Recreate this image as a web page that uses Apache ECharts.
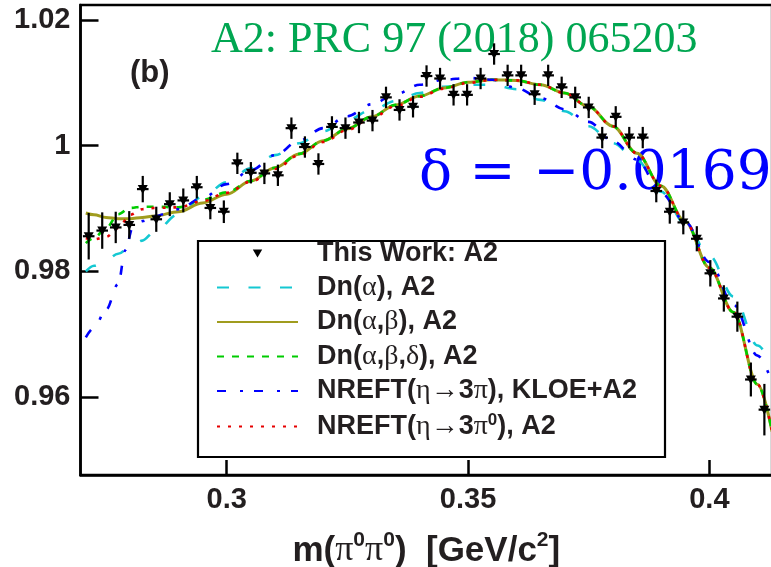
<!DOCTYPE html>
<html>
<head>
<meta charset="utf-8">
<script src="https://cdn.jsdelivr.net/npm/echarts@6/dist/echarts.min.js"></script>
<style>
  html, body { margin: 0; padding: 0; background: #ffffff; }
  #chart { width: 771px; height: 567px; }
</style>
</head>
<body>
<div id="chart"></div>
<script>
// Measured ratio per m(pi0 pi0) bin
const massBins = [0.2714, 0.2742, 0.2770, 0.2798, 0.2826, 0.2854, 0.2882, 0.2910, 0.2938, 0.2966,
  0.2994, 0.3022, 0.3050, 0.3078, 0.3106, 0.3134, 0.3162, 0.3190, 0.3218, 0.3246,
  0.3274, 0.3302, 0.3330, 0.3358, 0.3386, 0.3414, 0.3442, 0.3470, 0.3498, 0.3526,
  0.3554, 0.3582, 0.3610, 0.3638, 0.3666, 0.3694, 0.3722, 0.3750, 0.3778, 0.3806,
  0.3834, 0.3862, 0.3890, 0.3918, 0.3946, 0.3974, 0.4002, 0.4030, 0.4058, 0.4086, 0.4114];
const ratioValues = [0.9856, 0.9865, 0.9870, 0.9874, 0.9931, 0.9883, 0.9907, 0.9913, 0.9934, 0.9901,
  0.9895, 0.9972, 0.9957, 0.9956, 0.9953, 1.0028, 0.9998, 0.9971, 1.0030, 1.0028,
  1.0037, 1.0040, 1.0077, 1.0057, 1.0062, 1.0111, 1.0107, 1.0081, 1.0081, 1.0107,
  1.0146, 1.0112, 1.0112, 1.0082, 1.0112, 1.0093, 1.0077, 1.0061, 1.0013, 1.0046,
  1.0013, 1.0013, 0.9928, 0.9895, 0.9878, 0.9852, 0.9797, 0.9757, 0.9728, 0.9628, 0.9580];
const ratioErrors = [0.0037, 0.0029, 0.0025, 0.0022, 0.0021, 0.0020, 0.0019, 0.0019, 0.0018, 0.0018,
  0.0018, 0.0017, 0.0017, 0.0017, 0.0017, 0.0017, 0.0017, 0.0017, 0.0017, 0.0017,
  0.0017, 0.0017, 0.0017, 0.0017, 0.0017, 0.0017, 0.0017, 0.0017, 0.0017, 0.0017,
  0.0017, 0.0017, 0.0017, 0.0017, 0.0017, 0.0017, 0.0017, 0.0017, 0.0017, 0.0017,
  0.0017, 0.0017, 0.0018, 0.0019, 0.0019, 0.0020, 0.0021, 0.0021, 0.0024, 0.0027, 0.0041];
const massHalfWidth = 0.0012;

// Fit curves, sampled in m(pi0 pi0)
const curveMass = [0.2708, 0.2725, 0.275, 0.2775, 0.280, 0.2825, 0.285, 0.290, 0.295, 0.300,
  0.305, 0.310, 0.315, 0.320, 0.325, 0.330, 0.335, 0.340, 0.345, 0.350,
  0.355, 0.360, 0.365, 0.370, 0.375, 0.380, 0.385, 0.390, 0.395, 0.400,
  0.405, 0.410, 0.413];
const dnAlpha = [0.9800, 0.9809, 0.9818, 0.9828, 0.9839, 0.9849, 0.9863, 0.9891, 0.9919, 0.9942,
  0.9964, 0.9985, 1.0004, 1.0023, 1.0041, 1.0057, 1.0071, 1.0084, 1.0094, 1.0097,
  1.0097, 1.0090, 1.0073, 1.0055, 1.0031, 1.0004, 0.9977, 0.9927, 0.9876, 0.9825,
  0.9760, 0.9682, 0.9650];
const dnAlphaBeta = [0.9893, 0.9890, 0.9886, 0.9884, 0.9884, 0.9886, 0.9888, 0.9895, 0.9909, 0.9923,
  0.9944, 0.9965, 0.9987, 1.0008, 1.0027, 1.0046, 1.0065, 1.0079, 1.0092, 1.0101,
  1.0105, 1.0104, 1.0097, 1.0084, 1.0062, 1.0031, 0.9988, 0.9936, 0.9879, 0.9806,
  0.9735, 0.9620, 0.9545];
const dnAlphaBetaDelta = [0.9845, 0.9853, 0.9869, 0.9891, 0.9901, 0.9903, 0.9903, 0.9902, 0.9914, 0.9926,
  0.9944, 0.9965, 0.9987, 1.0008, 1.0027, 1.0046, 1.0065, 1.0079, 1.0092, 1.0101,
  1.0105, 1.0104, 1.0097, 1.0084, 1.0062, 1.0031, 0.9988, 0.9936, 0.9879, 0.9806,
  0.9735, 0.9620, 0.9545];
const nreftNeutral = [0.9853, 0.9851, 0.9855, 0.9869, 0.9890, 0.9899, 0.9901, 0.9902, 0.9912, 0.9925,
  0.9943, 0.9963, 0.9985, 1.0006, 1.0025, 1.0044, 1.0063, 1.0078, 1.0091, 1.0100,
  1.0105, 1.0104, 1.0097, 1.0084, 1.0062, 1.0031, 0.9988, 0.9936, 0.9879, 0.9806,
  0.9735, 0.9620, 0.9545];
const kloeMass = [0.2708, 0.2725, 0.275, 0.2775, 0.279, 0.2805, 0.2825, 0.285, 0.290, 0.295,
  0.300, 0.305, 0.310, 0.315, 0.320, 0.325, 0.330, 0.335, 0.340, 0.345,
  0.350, 0.355, 0.360, 0.365, 0.370, 0.375, 0.380, 0.385, 0.390, 0.395,
  0.400, 0.405, 0.410, 0.413];
const nreftKloe = [0.9695, 0.9710, 0.9739, 0.9780, 0.9834, 0.9869, 0.9880, 0.9888, 0.9899, 0.9917,
  0.9939, 0.9961, 0.9985, 1.0008, 1.0028, 1.0047, 1.0066, 1.0082, 1.0097, 1.0105,
  1.0108, 1.0105, 1.0092, 1.0076, 1.0058, 1.0038, 1.0007, 0.9978, 0.9925, 0.9879,
  0.9815, 0.9747, 0.9666, 0.9623];

const xTicks = [0.3, 0.35, 0.4];
const xTickLabels = ['0.3', '0.35', '0.4'];
const yTicks = [0.96, 0.98, 1, 1.02];
const yTickLabels = ['0.96', '0.98', '1', '1.02'];

const seriesNames = ['This Work: A2', 'Dn(α), A2', 'Dn(α,β), A2', 'Dn(α,β,δ), A2',
  'NREFT(η→3π), KLOE+A2', 'NREFT(η→3π^0), A2'];

// Split a label into rich-text runs: Greek letters and arrows in a serif face,
// '^x' as a superscript, everything else in bold sans.
function toRich(text) {
  const runs = [];
  for (let i = 0; i < text.length; i++) {
    let ch = text[i];
    let cls = 'b';
    if (ch === '^') { cls = 's'; ch = text[++i]; }
    else if ('αβδηπ→'.indexOf(ch) >= 0) cls = 'g';
    if (runs.length && runs[runs.length - 1].cls === cls && cls !== 's') runs[runs.length - 1].t += ch;
    else runs.push({ cls, t: ch });
  }
  return runs.map(r => '{' + r.cls + '|' + r.t + '}').join('');
}

const pairs = (xs, ys) => xs.map((x, i) => [x, ys[i]]);
const labelOf = (ticks, labels) => v => {
  const k = ticks.findIndex(t => Math.abs(t - v) < 1e-9);
  return k >= 0 ? labels[k] : '';
};

const sans = 'Liberation Sans';
const ink = '#231f20';

const chart = echarts.init(document.getElementById('chart'), null, { renderer: 'canvas' });

const curveSeries = (name, xs, ys, color, type, width) => ({
  name, type: 'line', data: pairs(xs, ys), symbol: 'none', smooth: 0.35, smoothMonotone: 'x',
  lineStyle: { color, type, width }, itemStyle: { color }, z: 3, silent: true
});

chart.setOption({
  animation: false,
  backgroundColor: '#ffffff',
  grid: {
    left: 80.5, top: 5, right: -1.1, bottom: 92,
    show: true, borderColor: '#000', borderWidth: 2.5, backgroundColor: 'transparent',
    containLabel: false, outerBoundsMode: 'none'
  },
  xAxis: {
    type: 'value', min: 0.2697, max: 0.4130,
    name: toRich('m(π^0π^0)  [GeV/c^2]'),
    nameLocation: 'middle', nameGap: 55,
    nameTextStyle: {
      rich: {
        b: { fontFamily: sans, fontWeight: 'bold', fontSize: 35, color: ink, lineHeight: 42 },
        g: { fontFamily: 'Liberation Serif', fontSize: 36, color: ink, lineHeight: 42 },
        s: { fontFamily: sans, fontWeight: 'bold', fontSize: 21, color: ink, verticalAlign: 'top', lineHeight: 22 }
      }
    },
    axisLine: { show: true, onZero: false, lineStyle: { color: '#000', width: 2.5 } },
    axisTick: { show: true, inside: true, length: 15, customValues: xTicks, lineStyle: { color: '#000', width: 2.5 } },
    axisLabel: {
      customValues: xTicks, formatter: labelOf(xTicks, xTickLabels), margin: 10,
      fontFamily: sans, fontWeight: 'bold', fontSize: 29, color: ink
    },
    splitLine: { show: false }
  },
  yAxis: {
    type: 'value', min: 0.9476, max: 1.0224,
    axisLine: { show: true, onZero: false, lineStyle: { color: '#000', width: 2.5 } },
    axisTick: { show: true, inside: true, length: 18, customValues: yTicks, lineStyle: { color: '#000', width: 2.5 } },
    axisLabel: {
      customValues: yTicks, formatter: labelOf(yTicks, yTickLabels), margin: 10,
      fontFamily: sans, fontWeight: 'bold', fontSize: 29, color: ink
    },
    splitLine: { show: false }
  },
  legend: {
    orient: 'vertical', left: 216, top: 240, padding: 0,
    itemWidth: 81, itemHeight: 8, itemGap: 6.5, selectedMode: false, symbolKeepAspect: true,
    // line samples only: hide the marker that line series put in the middle of the sample
    itemStyle: { opacity: 0 },
    data: [
      { name: seriesNames[0], icon: 'path://M0,0L10,0L5,8.5Z', itemStyle: { color: '#000', opacity: 1 } },
      seriesNames[1], seriesNames[2], seriesNames[3], seriesNames[4], seriesNames[5]
    ],
    formatter: name => '{p| }' + toRich(name),
    textStyle: {
      rich: {
        p: { width: 14, fontSize: 27, lineHeight: 30 },
        b: { fontFamily: sans, fontWeight: 'bold', fontSize: 27, color: ink, lineHeight: 30 },
        g: { fontFamily: 'Liberation Serif', fontSize: 28, color: ink, lineHeight: 30 },
        s: { fontFamily: sans, fontWeight: 'bold', fontSize: 17, color: ink, verticalAlign: 'top', lineHeight: 16 }
      }
    },
    z: 6
  },
  graphic: [
    { type: 'rect', z: 5, shape: { x: 198, y: 241, width: 467, height: 216 },
      style: { fill: '#ffffff', stroke: '#000', lineWidth: 2.2 } },
    { type: 'text', z: 1, x: 130, y: 73,
      style: { text: '(b)', font: 'bold 31px "Liberation Sans"', fill: ink, verticalAlign: 'middle' } },
    { type: 'text', z: 1, x: 211, y: 40,
      style: { text: 'A2: PRC 97 (2018) 065203', font: '44px "Liberation Serif"', fill: '#00a651', verticalAlign: 'middle' } },
    { type: 'text', z: 1, x: 419, y: 175,
      style: { text: 'δ = −0.0169', font: '55px "DejaVu Serif"', fill: '#0000ff', verticalAlign: 'middle' } }
  ],
  series: [
    {
      name: seriesNames[0], type: 'custom', z: 4, silent: true,
      itemStyle: { color: '#000' },
      data: massBins.map((m, i) => [m, ratioValues[i], ratioErrors[i]]),
      renderItem(params, api) {
        const x = api.value(0), y = api.value(1), e = api.value(2);
        const c = api.coord([x, y]);
        const hi = api.coord([x, y + e]);
        const lo = api.coord([x, y - e]);
        const l = api.coord([x - massHalfWidth, y]);
        const r = api.coord([x + massHalfWidth, y]);
        const s = 5;
        const stroke = { stroke: '#000', lineWidth: 2.2 };
        return {
          type: 'group',
          children: [
            { type: 'line', shape: { x1: c[0], y1: hi[1], x2: c[0], y2: lo[1] }, style: stroke },
            { type: 'line', shape: { x1: l[0], y1: c[1], x2: r[0], y2: c[1] }, style: stroke },
            { type: 'polygon', shape: { points: [[c[0] - s, c[1] - 4], [c[0] + s, c[1] - 4], [c[0], c[1] + 5]] },
              style: { fill: '#000' } }
          ]
        };
      }
    },
    curveSeries(seriesNames[1], curveMass, dnAlpha, '#14c8d2', [12, 19.5], 2.6),
    curveSeries(seriesNames[2], curveMass, dnAlphaBeta, '#a09c1e', 'solid', 3),
    curveSeries(seriesNames[3], curveMass, dnAlphaBetaDelta, '#00cc00', [7, 8], 2.6),
    curveSeries(seriesNames[4], kloeMass, nreftKloe, '#0000ff', [9, 14, 3, 11], 2.6),
    curveSeries(seriesNames[5], curveMass, nreftNeutral, '#e60000', [3, 8], 2.6)
  ]
});
</script>
</body>
</html>
